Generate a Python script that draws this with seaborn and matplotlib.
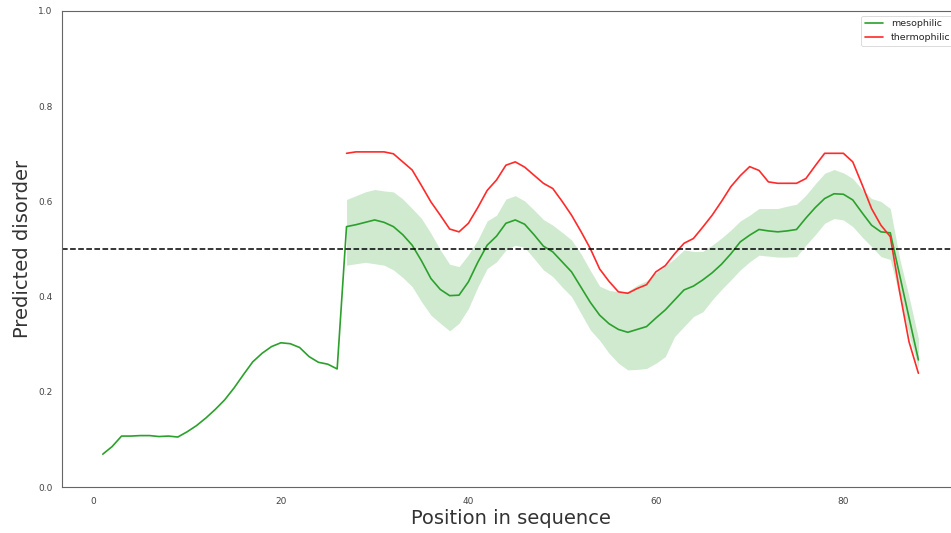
import numpy as np
import pandas as pd
import matplotlib
matplotlib.use("Agg")
import matplotlib.pyplot as plt
import seaborn as sns

sns.set_style("white")

# mesophilic mean, positions 1..88
meso_pos = list(range(1, 89))
meso_mean = [0.069, 0.085, 0.107, 0.107, 0.108, 0.108, 0.106, 0.107, 0.105, 0.116,
             0.129, 0.145, 0.163, 0.183, 0.208, 0.236, 0.263, 0.281, 0.295, 0.303,
             0.301, 0.293, 0.274, 0.262, 0.258, 0.248, 0.547, 0.551, 0.556, 0.561,
             0.556, 0.547, 0.530, 0.508, 0.475, 0.438, 0.415, 0.402, 0.403, 0.431,
             0.472, 0.508, 0.527, 0.554, 0.561, 0.552, 0.530, 0.506, 0.494, 0.473,
             0.452, 0.420, 0.388, 0.361, 0.343, 0.331, 0.325, 0.331, 0.337, 0.355,
             0.372, 0.393, 0.414, 0.422, 0.435, 0.450, 0.468, 0.490, 0.515, 0.529,
             0.541, 0.538, 0.536, 0.538, 0.541, 0.565, 0.587, 0.606, 0.616, 0.615,
             0.603, 0.576, 0.550, 0.536, 0.534, 0.445, 0.356, 0.267]

# confidence band, positions 27..88
band_pos = list(range(27, 89))
band_upper = [0.604, 0.612, 0.620, 0.625, 0.622, 0.620, 0.605, 0.585, 0.564, 0.533,
              0.498, 0.468, 0.463, 0.488, 0.519, 0.559, 0.571, 0.605, 0.612, 0.601,
              0.582, 0.562, 0.550, 0.535, 0.519, 0.490, 0.455, 0.422, 0.413, 0.410,
              0.411, 0.424, 0.433, 0.449, 0.464, 0.480, 0.498, 0.495, 0.495, 0.508,
              0.523, 0.540, 0.559, 0.571, 0.585, 0.585, 0.585, 0.590, 0.594, 0.613,
              0.637, 0.659, 0.667, 0.660, 0.648, 0.625, 0.606, 0.600, 0.585, 0.480,
              0.400, 0.312]
band_lower = [0.466, 0.469, 0.472, 0.469, 0.466, 0.456, 0.440, 0.421, 0.389, 0.361,
              0.344, 0.328, 0.344, 0.375, 0.420, 0.459, 0.473, 0.498, 0.508, 0.503,
              0.480, 0.456, 0.442, 0.420, 0.400, 0.365, 0.330, 0.308, 0.281, 0.260,
              0.246, 0.247, 0.249, 0.260, 0.274, 0.316, 0.337, 0.358, 0.368, 0.393,
              0.415, 0.435, 0.456, 0.473, 0.487, 0.485, 0.483, 0.483, 0.484, 0.508,
              0.530, 0.554, 0.564, 0.561, 0.547, 0.525, 0.505, 0.484, 0.478, 0.400,
              0.320, 0.250]

# thermophilic mean, positions 27..88
thermo_pos = list(range(27, 89))
thermo_mean = [0.701, 0.704, 0.704, 0.704, 0.704, 0.700, 0.683, 0.666, 0.633, 0.599,
               0.571, 0.542, 0.536, 0.554, 0.587, 0.623, 0.645, 0.676, 0.683, 0.672,
               0.655, 0.638, 0.627, 0.600, 0.571, 0.537, 0.501, 0.458, 0.432, 0.410,
               0.407, 0.417, 0.425, 0.452, 0.465, 0.490, 0.512, 0.522, 0.546, 0.571,
               0.600, 0.631, 0.654, 0.673, 0.665, 0.641, 0.638, 0.638, 0.638, 0.648,
               0.675, 0.701, 0.701, 0.701, 0.683, 0.635, 0.585, 0.550, 0.526, 0.410,
               0.305, 0.239]

df = pd.concat([
    pd.DataFrame({"pos": meso_pos, "disorder": meso_mean, "group": "mesophilic"}),
    pd.DataFrame({"pos": thermo_pos, "disorder": thermo_mean, "group": "thermophilic"}),
])

fig = plt.figure(figsize=(9.51, 5.33), dpi=100)
# axes run a little past the right edge, as in the cropped original
ax = fig.add_axes([0.0652, 0.0863, 0.9434, 0.8931])

pal = {"mesophilic": "#2ca02c", "thermophilic": "#ff2a2a"}
sns.lineplot(data=df, x="pos", y="disorder", hue="group", palette=pal,
             linewidth=1.2, ax=ax)
ax.fill_between(band_pos, band_lower, band_upper, color="#2ca02c", alpha=0.22,
                linewidth=0)
ax.axhline(0.5, color="black", linestyle="--", linewidth=1.1)

ax.set_ylim(0, 1)
ax.set_xlim(-3.35, 92.35)
ax.set_xticks([0, 20, 40, 60, 80])
ax.set_yticks([0.0, 0.2, 0.4, 0.6, 0.8, 1.0])
ax.tick_params(labelsize=6.5, colors="#444444")
ax.set_xlabel("Position in sequence", fontsize=14, color="#333333", labelpad=2.5)
ax.set_ylabel("Predicted disorder", fontsize=14, color="#333333")
for s in ax.spines.values():
    s.set_color("#666666")
ax.spines["right"].set_visible(False)

leg = ax.legend(loc="upper right", fontsize=6.8, title=None)
leg.get_frame().set_linewidth(0.6)

fig.savefig("out.png", dpi=100)
